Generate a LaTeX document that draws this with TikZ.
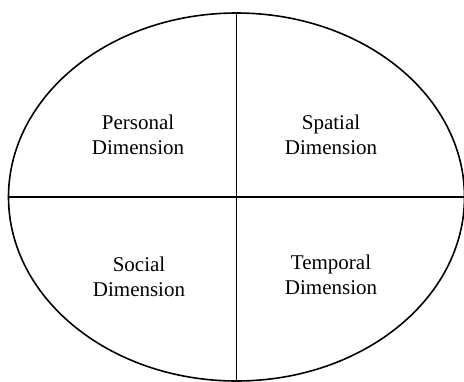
\documentclass[tikz,border=0pt]{standalone}
\usepackage{fontspec}
\setmainfont{Liberation Serif}
\usetikzlibrary{shapes.geometric,positioning}

\begin{document}
\begin{tikzpicture}[x=1pt, y=-1pt,
  oval/.style={draw, ellipse, line width=1.6pt, inner sep=0pt,
    minimum width=456pt, minimum height=368pt},
  divider/.style={draw, line width=1.6pt},
  dim/.style={align=center, inner sep=0pt, font=\fontsize{21}{25}\selectfont}]
  \useasboundingbox (0,0) rectangle (464,381);
  \node[oval] (ring) at (236.5,197) {};
  \draw[divider] (ring.north) -- (ring.south);
  \draw[divider] (ring.west) -- (ring.east);

  \node[dim] (personal) at (138,135) {Personal\\Dimension};
  \node[dim] (spatial) at (331,135) {Spatial\\Dimension};
  \node[dim] (social) at (139,277) {Social\\Dimension};
  \node[dim] (temporal) at (331,275) {Temporal\\Dimension};
\end{tikzpicture}
\end{document}
